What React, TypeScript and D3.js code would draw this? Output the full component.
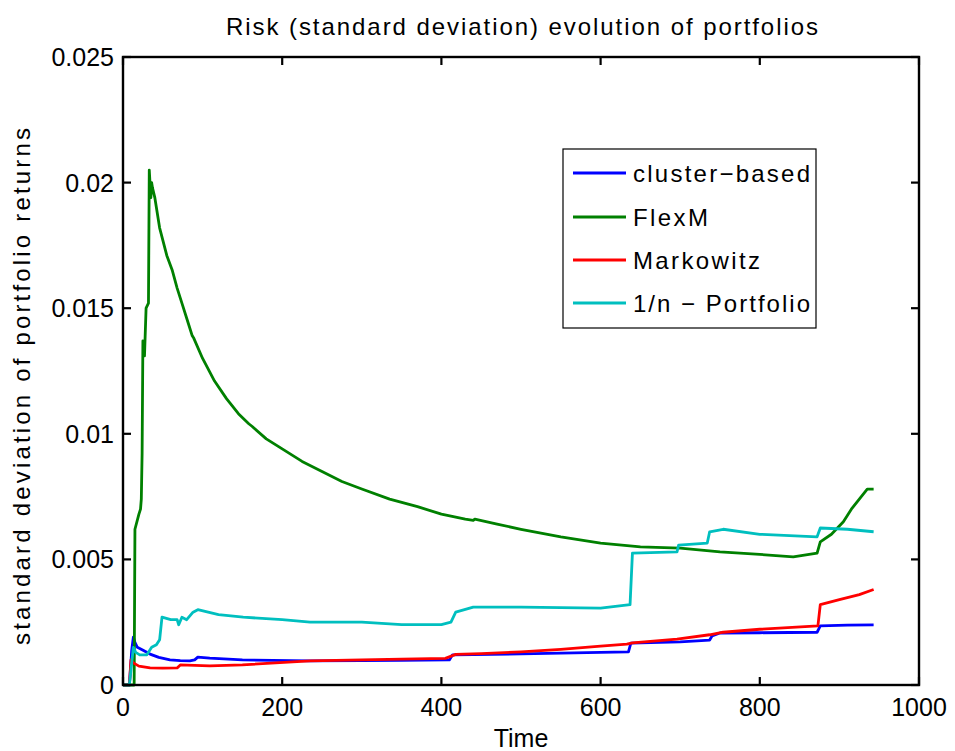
import React from "react";
import * as d3 from "d3";

const xTicks = [0, 200, 400, 600, 800, 1000];
const yTicks = [0, 0.005, 0.01, 0.015, 0.02, 0.025];
const yTickLabels = ["0", "0.005", "0.01", "0.015", "0.02", "0.025"];
const seriesNames = ["cluster\u2212based", "FlexM", "Markowitz", "1/n \u2212 Portfolio"];
const seriesColors = ["#0000ff", "#008000", "#ff0000", "#00bfbf"];

const clusterBased: [number, number][] = [
  [0, 0], [8, 0], [11, 0.0014], [13, 0.0019], [15, 0.0017], [18, 0.0015], [24, 0.0014], [34, 0.00123],
  [45, 0.0011], [59, 0.001], [72, 0.00097], [84, 0.00096], [90, 0.001], [94, 0.00111], [109, 0.00107],
  [150, 0.001], [235, 0.00096], [300, 0.00097], [350, 0.00098], [410, 0.001], [414, 0.0012], [440, 0.00121],
  [500, 0.00124], [550, 0.00127], [600, 0.0013], [635, 0.00132], [638, 0.00167], [700, 0.00172],
  [737, 0.00179], [740, 0.00195], [750, 0.00207], [800, 0.00208], [872, 0.0021], [876, 0.00235],
  [910, 0.00238], [943, 0.00239],
];

const flexM: [number, number][] = [
  [0, 0], [14, 0], [15, 0.0062], [20, 0.0068], [22, 0.007], [23, 0.0074], [24, 0.0092], [25, 0.0137],
  [27, 0.0131], [29, 0.015], [32, 0.0152], [33, 0.0205], [35, 0.0194], [36, 0.02], [37, 0.0198],
  [40, 0.0194], [46, 0.0182], [55, 0.0171], [62, 0.0165], [68, 0.0158], [75, 0.0151], [82, 0.0144],
  [87, 0.0139], [89, 0.0138], [100, 0.013], [115, 0.0121], [130, 0.0114], [145, 0.0108], [158, 0.0104],
  [162, 0.0103], [180, 0.0098], [200, 0.0094], [225, 0.0089], [250, 0.0085], [275, 0.0081], [300, 0.0078],
  [335, 0.0074], [370, 0.0071], [400, 0.0068], [430, 0.0066], [440, 0.00655], [442, 0.0066],
  [470, 0.0064], [500, 0.0062], [550, 0.0059], [600, 0.00565], [650, 0.0055], [700, 0.00545],
  [750, 0.0053], [800, 0.0052], [842, 0.0051], [872, 0.00525], [876, 0.0057], [890, 0.006],
  [905, 0.0065], [915, 0.007], [925, 0.0074], [935, 0.0078], [943, 0.0078],
];

const markowitz: [number, number][] = [
  [0, 0], [8, 0], [10, 0.001], [13, 0.00088], [20, 0.00075], [34, 0.00068], [50, 0.00067], [68, 0.00068],
  [72, 0.0008], [90, 0.00078], [109, 0.00076], [150, 0.0008], [235, 0.00096], [300, 0.001], [350, 0.00103],
  [405, 0.00106], [418, 0.00122], [450, 0.00125], [500, 0.00132], [550, 0.00142], [600, 0.00155],
  [633, 0.00163], [640, 0.00168], [696, 0.00183], [737, 0.002], [754, 0.0021], [800, 0.00222],
  [873, 0.00235], [876, 0.0032], [900, 0.0034], [925, 0.0036], [943, 0.0038],
];

const oneOverN: [number, number][] = [
  [0, 0], [8, 0], [13, 0.0015], [16, 0.0013], [21, 0.0012], [30, 0.0012], [36, 0.0015], [42, 0.0016],
  [46, 0.0018], [49, 0.0027], [60, 0.0026], [68, 0.0026], [70, 0.0024], [74, 0.0027], [80, 0.0026],
  [88, 0.0029], [94, 0.003], [120, 0.0028], [151, 0.0027], [200, 0.0026], [235, 0.0025], [300, 0.0025],
  [350, 0.0024], [400, 0.0024], [412, 0.0025], [418, 0.0029], [440, 0.0031], [500, 0.0031],
  [600, 0.00306], [637, 0.0032], [640, 0.00525], [696, 0.0053], [698, 0.00557], [734, 0.00565],
  [737, 0.0061], [754, 0.0062], [800, 0.006], [872, 0.0059], [876, 0.00625], [910, 0.0062], [943, 0.0061],
];

const allSeries = [clusterBased, flexM, markowitz, oneOverN];
const legendTextWidths = [177, 75, 127, 177];

const W = 955;
const H = 751;
const margin = { left: 123, right: 919, top: 57, bottom: 685 };
const FONT = "Liberation Sans, Arial, Helvetica, sans-serif";

export default function App() {
  const x = d3.scaleLinear().domain([0, 1000]).range([margin.left, margin.right]);
  const y = d3.scaleLinear().domain([0, 0.025]).range([margin.bottom, margin.top]);
  const line = d3
    .line<[number, number]>()
    .x((d) => x(d[0]))
    .y((d) => y(d[1]));
  const tickLen = 8;
  const legX = 563;
  const legY = 149;
  const legW = 253;
  const legH = 179;
  const rowY = [173, 217, 260, 303];

  return (
    <svg
      width={W}
      height={H}
      style={{ position: "absolute", left: 0, top: 0, background: "#fff" }}
      fontFamily={FONT}
    >
      <rect x={0} y={0} width={W} height={H} fill="#fff" />
      <text x={226} y={35} fontSize={24} textLength={592} lengthAdjust="spacing">
        Risk (standard deviation) evolution of portfolios
      </text>
      {allSeries.map((s, i) => (
        <path
          key={i}
          d={line(s) || ""}
          fill="none"
          stroke={seriesColors[i]}
          strokeWidth={2.8}
          strokeLinejoin="round"
        />
      ))}
      <rect
        x={margin.left}
        y={margin.top}
        width={margin.right - margin.left}
        height={margin.bottom - margin.top}
        fill="none"
        stroke="#000"
        strokeWidth={2.4}
      />
      {xTicks.map((t) => (
        <g key={"x" + t}>
          <line x1={x(t)} x2={x(t)} y1={margin.bottom} y2={margin.bottom - tickLen} stroke="#000" strokeWidth={2.2} />
          <line x1={x(t)} x2={x(t)} y1={margin.top} y2={margin.top + tickLen} stroke="#000" strokeWidth={2.2} />
          <text x={x(t)} y={margin.bottom + 31} textAnchor="middle" fontSize={25}>
            {t}
          </text>
        </g>
      ))}
      {yTicks.map((t, i) => (
        <g key={"y" + t}>
          <line x1={margin.left} x2={margin.left + tickLen} y1={y(t)} y2={y(t)} stroke="#000" strokeWidth={2.2} />
          <line x1={margin.right} x2={margin.right - tickLen} y1={y(t)} y2={y(t)} stroke="#000" strokeWidth={2.2} />
          <text x={margin.left - 9} y={y(t) + 9} textAnchor="end" fontSize={25}>
            {yTickLabels[i]}
          </text>
        </g>
      ))}
      <text x={(margin.left + margin.right) / 2} y={747} textAnchor="middle" fontSize={25}>
        Time
      </text>
      <text transform={`translate(30, 645) rotate(-90)`} fontSize={24} textLength={517} lengthAdjust="spacing">
        standard deviation of portfolio returns
      </text>
      <rect x={legX} y={legY} width={legW} height={legH} fill="#fff" stroke="#000" strokeWidth={1.2} />
      {seriesNames.map((n, i) => (
        <g key={n}>
          <line x1={573} x2={626} y1={rowY[i]} y2={rowY[i]} stroke={seriesColors[i]} strokeWidth={2.8} />
          <text x={633} y={rowY[i] + 9} fontSize={24} textLength={legendTextWidths[i]} lengthAdjust="spacing">
            {n}
          </text>
        </g>
      ))}
    </svg>
  );
}
